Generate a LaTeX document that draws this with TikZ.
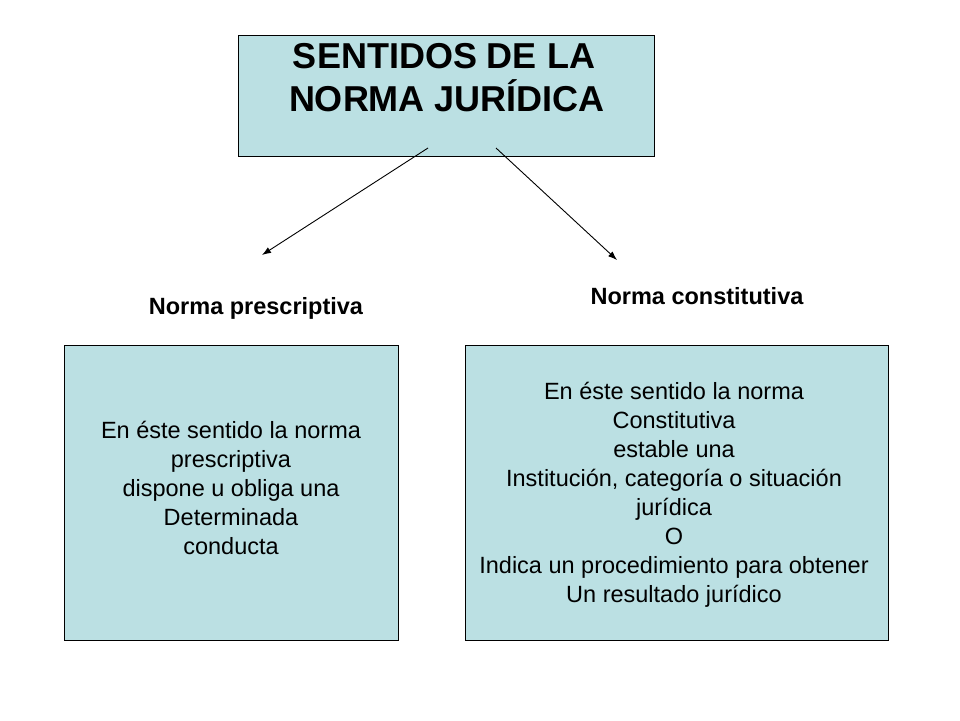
\documentclass[tikz,border=0pt]{standalone}
\usepackage{fontspec}
\setmainfont{Liberation Sans}
\usetikzlibrary{arrows.meta}
\definecolor{boxfill}{RGB}{187,224,227}
\begin{document}
\begin{tikzpicture}[x=1pt,y=-1pt,
  panel/.style={draw=black,line width=0.9pt,fill=boxfill},
  body/.style={align=center,font=\fontsize{23.5}{29}\selectfont,inner sep=0pt},
  lbl/.style={font=\bfseries\fontsize{23.5}{28}\selectfont,inner sep=0pt,anchor=base},
  ttl/.style={font=\bfseries\fontsize{36}{43}\selectfont,inner sep=0pt,anchor=base},
  conn/.style={line width=0.9pt,-{Latex[length=9pt,width=6.5pt]}}]
\useasboundingbox (0,0) rectangle (960,720);
\fill[white] (0,0) rectangle (960,720);
% boxes
\draw[panel] (238,35) rectangle (654,156);
\draw[panel] (64,345) rectangle (398,640);
\draw[panel] (465,345) rectangle (888,640);
% title
\node[ttl] (t1) at (444,68) {SENTIDOS DE LA};
\node[ttl] (t2) at (447,111) {NORMA JURÍDICA};
\coordinate (s1) at (428,148);
\coordinate (s2) at (496,148);
% labels
\node[lbl] (lp) at (256,314) {Norma prescriptiva};
\node[lbl] (lc) at (697,304) {Norma constitutiva};
\coordinate (e1) at (262,255);
\coordinate (e2) at (617,260);
\draw[conn] (s1) -- (e1);
\draw[conn] (s2) -- (e2);
% body texts
\node[body] (bl) at (231,488) {En éste sentido la norma\\prescriptiva\\dispone u obliga una\\Determinada\\conducta};
\node[body] (br) at (674,495) {En éste sentido la norma\\Constitutiva\\estable una\\Institución, categoría o situación\\jurídica\\O\\Indica un procedimiento para obtener\\Un resultado jurídico};
\end{tikzpicture}
\end{document}
